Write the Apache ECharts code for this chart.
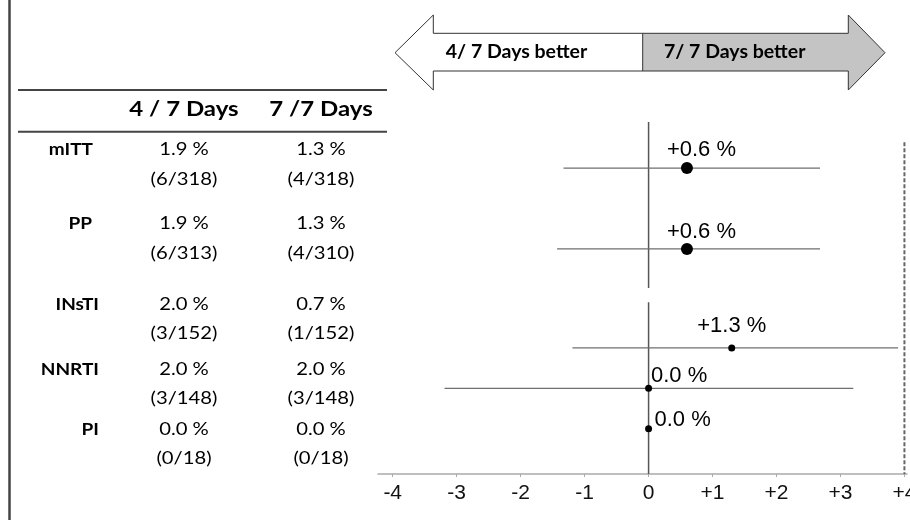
<!DOCTYPE html>
<html>
<head>
<meta charset="utf-8">
<script src="https://cdn.jsdelivr.net/npm/echarts@6/dist/echarts.min.js"></script>
<style>
  html, body { margin: 0; padding: 0; background: #fff; }
  #chart { width: 910px; height: 520px; }
</style>
</head>
<body>
<div id="chart"></div>
<script>
// ---------------- DATA ----------------
const groups   = ['mITT', 'PP', 'INsTI', 'NNRTI', 'PI'];
const pct4     = [1.9, 1.9, 2.0, 2.0, 0.0];
const events4  = [6, 6, 3, 3, 0];
const total4   = [318, 313, 152, 148, 18];
const pct7     = [1.3, 1.3, 0.7, 2.0, 0.0];
const events7  = [4, 4, 1, 3, 0];
const total7   = [318, 310, 152, 148, 18];
const diff     = [0.6, 0.6, 1.3, 0.0, 0.0];
const ciLow    = [-1.33, -1.43, -1.19, -3.19, null];
const ciHigh   = [2.68, 2.68, 3.9, 3.2, null];
const headers  = ['4 / 7 Days', '7 /7 Days'];
const arrowLeftText  = '4/ 7 Days better';
const arrowRightText = '7/ 7 Days better';
const xTicks   = [-4, -3, -2, -1, 0, 1, 2, 3, 4];

// ---------------- LAYOUT ----------------
const rowSlot     = [0, 2, 4.45, 5.45, 6.45];        // vertical slot of each plot row
const bigDot      = [true, true, false, false, false];
const labelOffset = [[14.5, -18], [14.5, -17], [0, -21.5], [30.5, -12.5], [34, -8.5]];
const zeroSegments = [[-1.14, 2.97], [3.32, 7.57]];
const dashedSpan   = [-0.64, 7.57];
const tableRowY1 = [149.3, 223.3, 305, 370, 430];
const tableRowY2 = [179.3, 253.3, 333.3, 398.3, 458.3];
const tableLabelX = [93, 92, 99, 99, 99];
const colX = [184, 321];

const fmtDiff = v => (v > 0 ? '+' : '') + v.toFixed(1) + ' %';
const fmtPct = v => v.toFixed(1) + ' %';

const chart = echarts.init(document.getElementById('chart'), null, { renderer: 'canvas' });

// table graphics
const g = [];
const TXT = '#000';
g.push({ type: 'line', shape: { x1: 9.5, y1: 0, x2: 9.5, y2: 520 }, style: { stroke: '#444', lineWidth: 2.5 } });
g.push({ type: 'line', shape: { x1: 18, y1: 90, x2: 387, y2: 90 }, style: { stroke: '#444', lineWidth: 2 } });
g.push({ type: 'line', shape: { x1: 18, y1: 131.7, x2: 387, y2: 131.7 }, style: { stroke: '#444', lineWidth: 2 } });
function txt(x, y, text, font, align, sx) {
  g.push({
    type: 'text', x: x, y: y, scaleX: sx,
    style: { text: text, font: font, fill: TXT, textAlign: align, textVerticalAlign: 'middle', align: align, verticalAlign: 'middle' }
  });
}
headers.forEach((h, i) => txt(colX[i], 110, h, 'bold 20px Lato', 'center', 1.2));
groups.forEach((name, i) => {
  txt(tableLabelX[i], tableRowY1[i], name, 'bold 17px Lato', 'right', 1.12);
  txt(colX[0], tableRowY1[i], fmtPct(pct4[i]), '17px Lato', 'center', 1.19);
  txt(colX[0], tableRowY2[i], '(' + events4[i] + '/' + total4[i] + ')', '17px Lato', 'center', 1.19);
  txt(colX[1], tableRowY1[i], fmtPct(pct7[i]), '17px Lato', 'center', 1.19);
  txt(colX[1], tableRowY2[i], '(' + events7[i] + '/' + total7[i] + ')', '17px Lato', 'center', 1.19);
});

// arrow
const L = 395, LH = 433.3, SPL = 642.7, RH = 848.3, R = 885;
const yT = 15, yBT = 33.3, yM = 52.7, yBB = 71, yB = 90;
g.push({ type: 'polygon', shape: { points: [[SPL, yBT], [RH, yBT], [RH, yT], [R, yM], [RH, yB], [RH, yBB], [SPL, yBB]] },
  style: { fill: '#c4c4c4', stroke: null } });
g.push({ type: 'polygon', shape: { points: [[L, yM], [LH, yT], [LH, yBT], [RH, yBT], [RH, yT], [R, yM], [RH, yB], [RH, yBB], [LH, yBB], [LH, yB]] },
  style: { fill: null, stroke: '#333', lineWidth: 1 } });
g.push({ type: 'line', shape: { x1: SPL, y1: yBT, x2: SPL, y2: yBB }, style: { stroke: '#333', lineWidth: 1 } });
g.push({ type: 'text', x: 516.5, y: 52, style: { text: arrowLeftText, font: 'bold 19.5px Lato', fill: TXT, textAlign: 'center', textVerticalAlign: 'middle', align: 'center', verticalAlign: 'middle' } });
g.push({ type: 'text', x: 734.7, y: 52, style: { text: arrowRightText, font: 'bold 19.5px Lato', fill: TXT, textAlign: 'center', textVerticalAlign: 'middle', align: 'center', verticalAlign: 'middle' } });

const ciData = [];
groups.forEach((n, i) => { if (ciLow[i] !== null) ciData.push([ciLow[i], ciHigh[i], rowSlot[i]]); });

const pointData = groups.map((n, i) => ({
  value: [diff[i], rowSlot[i]],
  symbolSize: bigDot[i] ? 12 : 7,
  label: { offset: labelOffset[i] }
}));

const option = {
  animation: false,
  backgroundColor: '#fff',
  grid: { left: 378, right: 3, top: 122, bottom: 46, containLabel: false, outerBoundsMode: 'none' },
  xAxis: {
    type: 'value', min: -4.23, max: 4.04,
    axisLine: { show: true, onZero: false, lineStyle: { color: '#aaa', width: 1.5 } },
    axisTick: { show: true, customValues: xTicks, length: 3, lineStyle: { color: '#aaa' } },
    axisLabel: {
      customValues: xTicks, margin: 9, color: '#111', fontSize: 21, fontFamily: 'Liberation Sans',
      formatter: v => (v > 0 ? '+' + v : String(v))
    },
    splitLine: { show: false }
  },
  yAxis: {
    type: 'value', inverse: true, min: -1.14, max: 7.57, show: false
  },
  graphic: { elements: g },
  series: [
    ...zeroSegments.map(s => ({
      type: 'line', data: [[0, s[0]], [0, s[1]]], symbol: 'none',
      lineStyle: { color: '#555', width: 1.5 }, silent: true, z: 1
    })),
    {
      type: 'line', data: [[4, dashedSpan[0]], [4, dashedSpan[1]]], symbol: 'none', clip: false,
      lineStyle: { color: '#666', width: 2, type: [4, 2] }, silent: true, z: 1
    },
    {
      type: 'custom', data: ciData, z: 2,
      renderItem: (params, api) => {
        const a = api.coord([api.value(0), api.value(2)]);
        const b = api.coord([api.value(1), api.value(2)]);
        return { type: 'line', shape: { x1: a[0], y1: a[1], x2: b[0], y2: b[1] }, style: { stroke: '#6e6e6e', lineWidth: 1.2 } };
      }
    },
    {
      type: 'scatter', data: pointData, z: 3,
      itemStyle: { color: '#000', opacity: 1 },
      label: {
        show: true, position: 'inside', align: 'center', verticalAlign: 'middle',
        color: '#000', fontSize: 22, fontFamily: 'Liberation Sans',
        formatter: p => fmtDiff(p.value[0])
      }
    }
  ]
};
chart.setOption(option);
</script>
</body>
</html>
